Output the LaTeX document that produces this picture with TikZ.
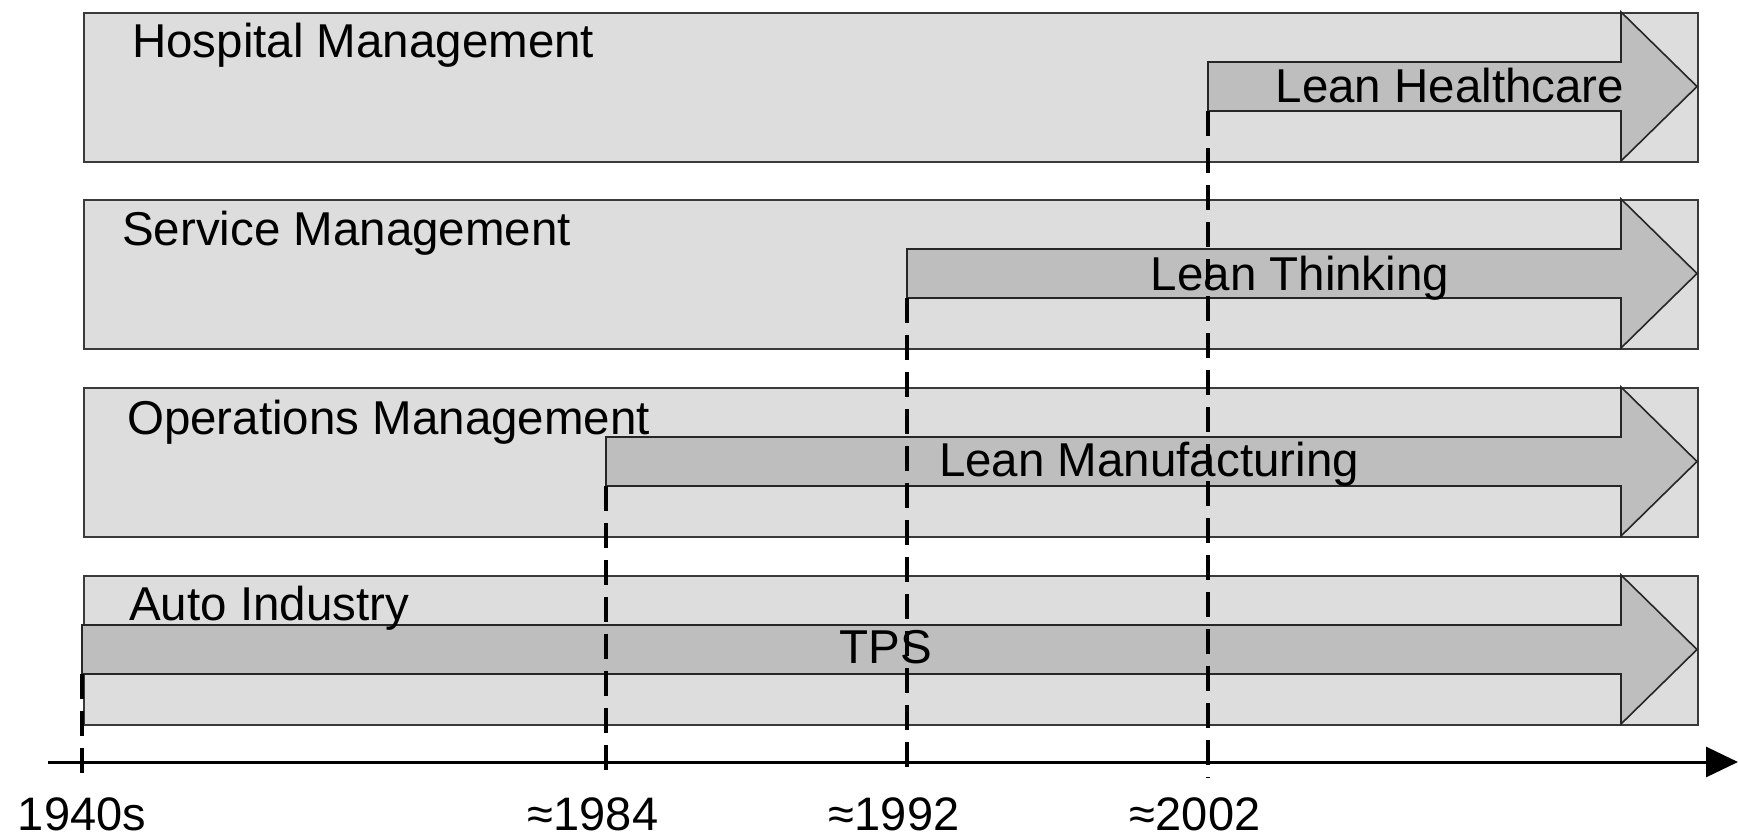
\documentclass[tikz,border=0pt]{standalone}
\usepackage{fontspec}
\setmainfont{Liberation Sans}
\usetikzlibrary{arrows.meta}
\definecolor{boxfill}{HTML}{DDDDDD}
\definecolor{arrfill}{HTML}{BEBEBE}
\definecolor{boxline}{HTML}{3A3A3A}
\newcommand\flowarrow[3]{%
  \draw[flow] (#1,#2+50) -- (1621,#2+50) -- (1621,#2) -- (1697,#2+74.5)
    -- (1621,#2+149) -- (1621,#2+99) -- (#1,#2+99) -- cycle;
  \coordinate (#3) at (#1,#2+99);}
\begin{document}
\begin{tikzpicture}[x=1pt,y=-1pt,
  lane/.style={fill=boxfill,draw=boxline,line width=1.6pt,anchor=north west,
    inner sep=0pt,minimum width=1614pt,minimum height=149pt},
  flow/.style={fill=arrfill,draw=black!85,line width=1.6pt,line join=miter},
  lanetitle/.style={anchor=base west,inner sep=0pt,font=\fontsize{47.5}{50}\selectfont},
  flowlabel/.style={anchor=base,inner sep=0pt,font=\fontsize{47.5}{50}\selectfont},
  yearlabel/.style={anchor=base,inner sep=0pt,font=\fontsize{47}{50}\selectfont},
  era/.style={line width=3.4pt,dash pattern=on 25pt off 12pt},
  axisline/.style={line width=3pt,-{Triangle[length=32pt,width=30pt]}},
]
\useasboundingbox (0,0) rectangle (1738,838);

% lanes
\node[lane] (hosp) at (83,12) {};
\node[lane] (serv) at (83,199) {};
\node[lane] (oper) at (83,387) {};
\node[lane] (auto) at (83,575) {};

% flow arrows
\flowarrow{1208}{12}{sHC}
\flowarrow{907}{199}{sLT}
\flowarrow{606}{387}{sLM}
\flowarrow{82}{575}{sTPS}

% lane titles
\node[lanetitle] (thosp) at (132,57) {Hospital Management};
\node[lanetitle] (tserv) at (122,245) {Service Management};
\node[lanetitle] (toper) at (127,434) {Operations Management};
\node[lanetitle] (tauto) at (129,620) {Auto Industry};

% flow labels
\node[flowlabel] (lHC) at (1450,102) {Lean Healthcare};
\node[flowlabel] (lLT) at (1300,290) {Lean Thinking};
\node[flowlabel] (lLM) at (1149,476) {Lean Manufacturing};
\node[flowlabel] (lTPS) at (886,663) {TPS};

% axis
\coordinate (axL) at (48,762);
\coordinate (axR) at (1738,762);
\draw[axisline] (axL) -- (axR);

% tick ends
\coordinate (e1940) at (82,778);
\coordinate (e1984) at (606,778);
\coordinate (e1992) at (907,778);
\coordinate (e2002) at (1208,778);

% era lines
\draw[era] (sTPS) -- (e1940);
\draw[era] (sLM) -- (e1984);
\draw[era] (sLT) -- (e1992);
\draw[era] (sHC) -- (e2002);

% year labels
\node[yearlabel] (y1940) at (82,830) {1940s};
\node[yearlabel] (y1984) at (606,830) {\llap{≈}1984};
\node[yearlabel] (y1992) at (907,830) {\llap{≈}1992};
\node[yearlabel] (y2002) at (1208,830) {\llap{≈}2002};
\end{tikzpicture}
\end{document}
